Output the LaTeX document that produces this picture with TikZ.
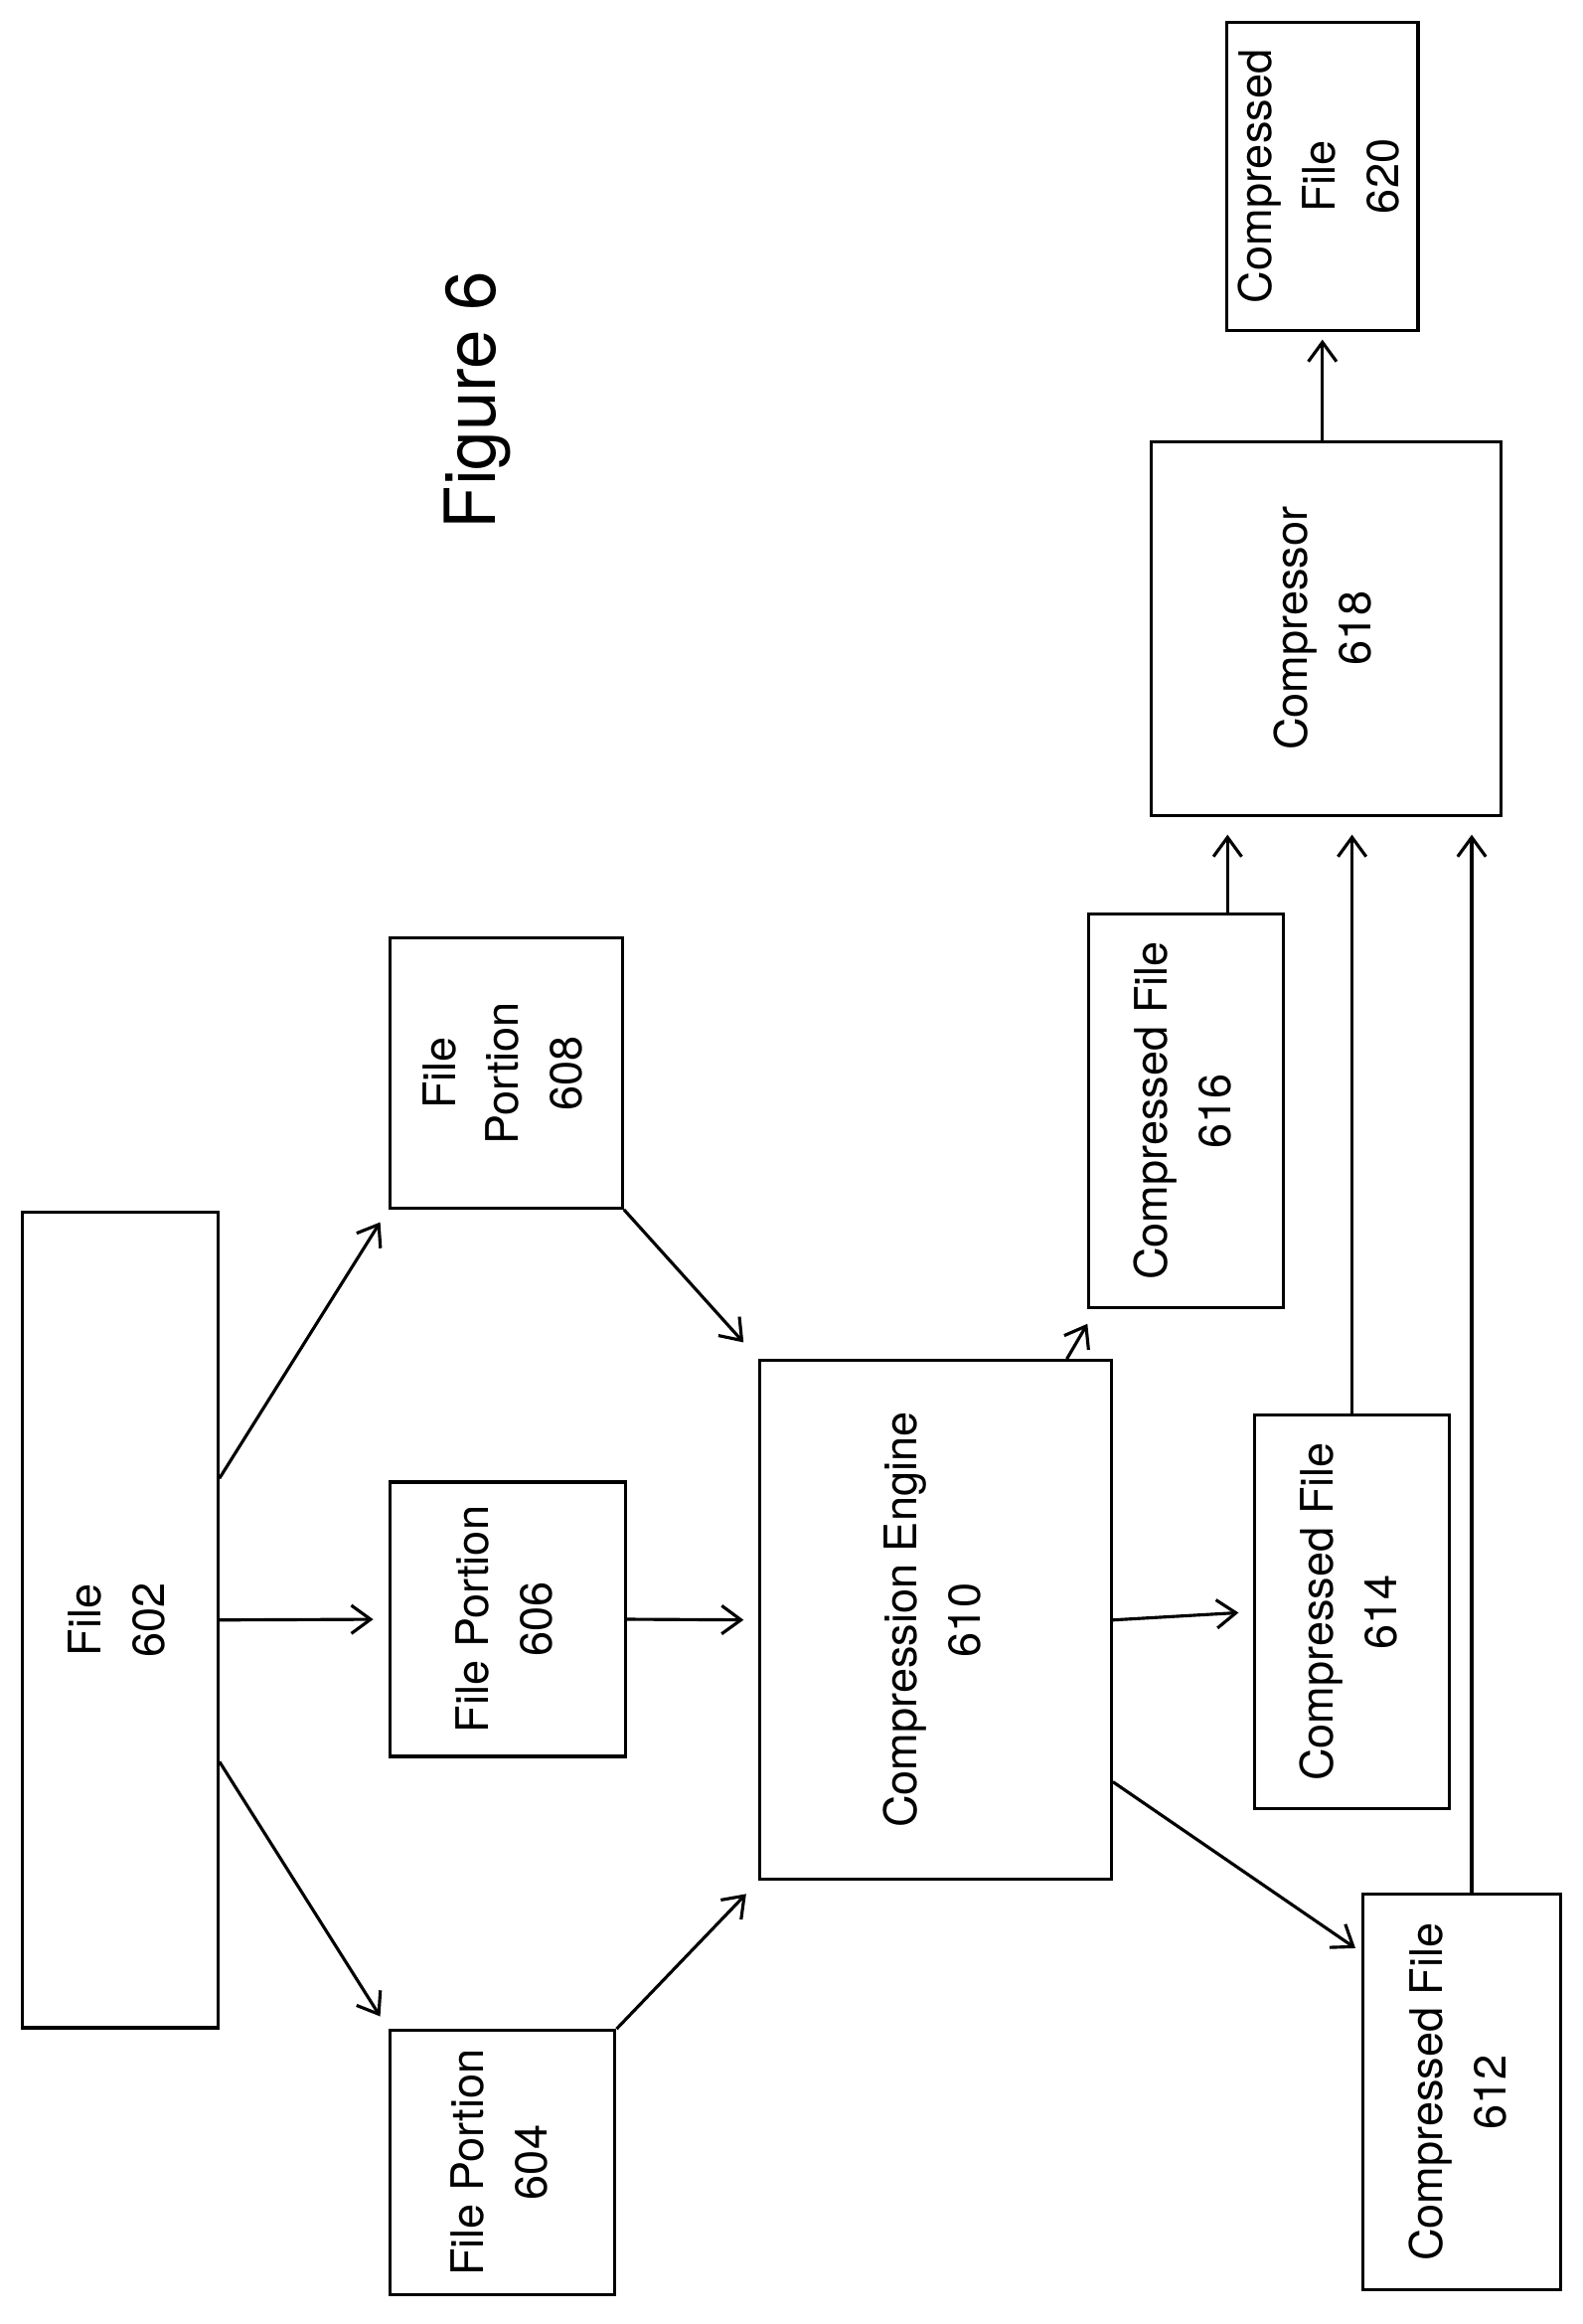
\documentclass[tikz,border=0pt]{standalone}
\usepackage{fontspec}
\setmainfont{TeX Gyre Heros}
\usetikzlibrary{calc,arrows.meta}
\tikzset{>={Straight Barb[length=1.3mm,width=1.9mm]}}
\tikzset{%
    blk/.style n args={2}{draw,line width=0.6pt,minimum width=#1cm,minimum height=#2cm,inner sep=0pt,font=\fontsize{8.6}{12.2}\selectfont},
    flow/.style={->,line width=0.6pt}
}
\newcommand{\rlab}[1]{\rotatebox{90}{\begin{tabular}{@{}c@{}}#1\end{tabular}}}

\begin{document}
\begin{tikzpicture}[x=0.01cm,y=-0.01cm]
    \useasboundingbox (0,0) rectangle (1068,1568);
    \node[font=\fontsize{13.5}{16}\selectfont,rotate=90] (fig) at (322,270) {Figure 6};
    % boxes
    \node[blk={1.32}{5.50}] (f602) at (81,1093) {\rlab{File\\602}};
    \node[blk={1.57}{1.82}] (p608) at (341.5,724) {\rlab{File\\Portion\\608}};
    \node[blk={1.59}{1.85}] (p606) at (342.5,1092.5) {\rlab{File Portion\\606}};
    \node[blk={1.52}{1.78}] (p604) at (339,1459) {\rlab{File Portion\\604}};
    \node[blk={2.37}{3.50}] (e610) at (631.5,1093) {\rlab{Compression Engine\\610}};
    \node[blk={1.31}{2.65}] (c616) at (800.5,749.5) {\rlab{Compressed File\\616}};
    \node[blk={1.31}{2.65}] (c614) at (912.5,1087.5) {\rlab{Compressed File\\614}};
    \node[blk={1.33}{2.67}] (c612) at (986.5,1411.5) {\rlab{Compressed File\\612}};
    \node[blk={2.36}{2.52}] (k618) at (895,424) {\rlab{Compressor\\618}};
    \node[blk={1.29}{2.08}] (c620) at (892.5,119) {\rlab{Compressed\\File\\620}};
    % connectors
    \draw[flow,shorten >=1mm] ($(f602.north east)!.327!(f602.south east)$) -- (p608.south west);
    \draw[flow,shorten >=1mm] (f602.east) -- (p606.west);
    \draw[flow,shorten >=1mm] ($(f602.north east)!.673!(f602.south east)$) -- (p604.north west);
    \draw[flow,shorten >=1.5mm] (p608.south east) -- (e610.north west);
    \draw[flow,shorten >=1mm] (p606.east) -- (e610.west);
    \draw[flow,shorten >=1.2mm] (p604.north east) -- (e610.south west);
    \draw[flow] ($(e610.north west)!.87!(e610.north east)$) -- ([yshift=-1mm]c616.south west);
    \draw[flow,shorten >=1mm] (e610.east) -- (c614.west);
    \draw[flow,shorten >=0.5mm] ($(e610.north east)!.81!(e610.south east)$) -- ($(c612.north west)!.15!(c612.south west)$);
    \draw[flow,shorten >=1.2mm] ($(c616.north west)!.71!(c616.north east)$) coordinate (u616) -- (u616 |- k618.south);
    \draw[flow,shorten >=1.2mm] (c614.north) -- (c614.north |- k618.south);
    \draw[flow,shorten >=1.2mm] ($(c612.north west)!.55!(c612.north east)$) coordinate (u612) -- (u612 |- k618.south);
    \draw[flow,shorten >=0.5mm] (k618.north -| c620.south) -- (c620.south);
\end{tikzpicture}
\end{document}
